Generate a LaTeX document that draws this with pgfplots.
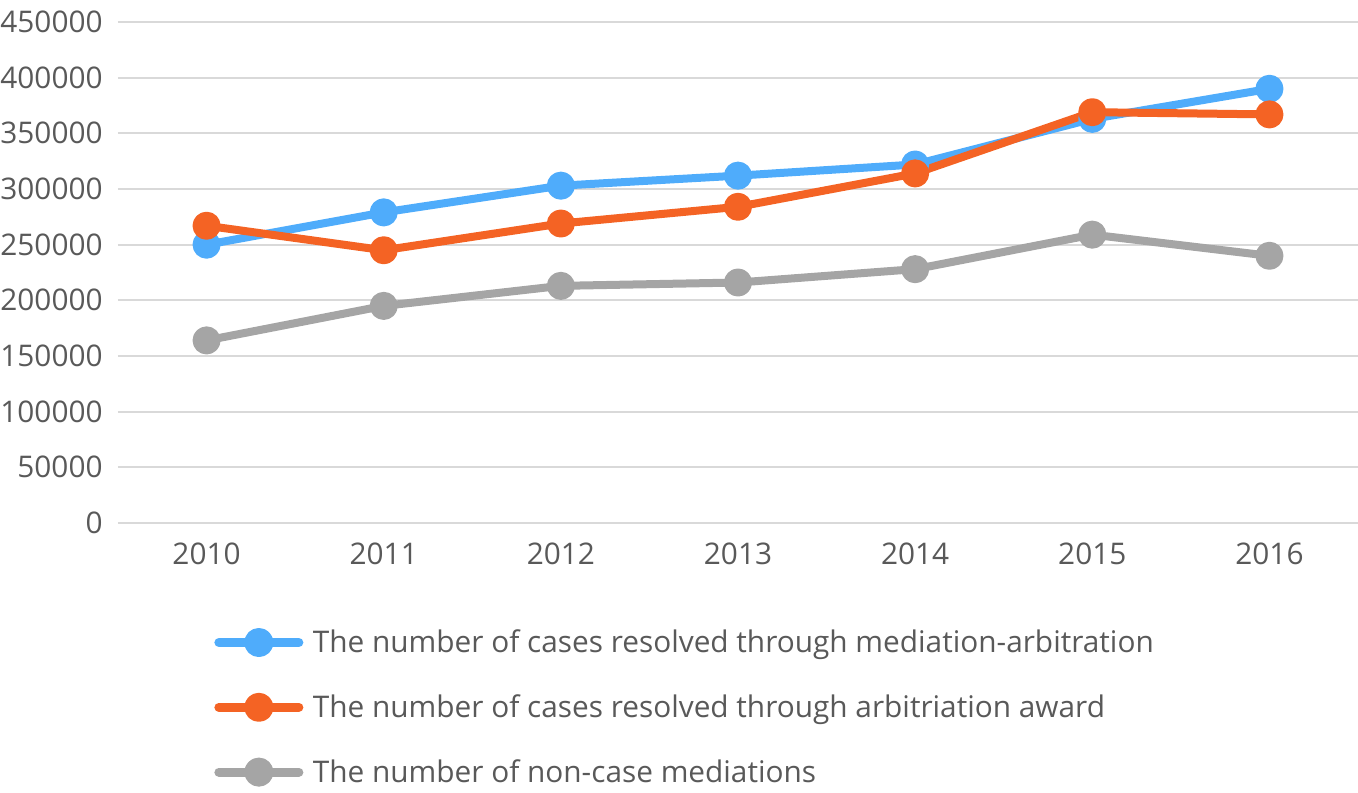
\documentclass[border=0pt]{standalone}
\usepackage{pgfplots}
\pgfplotsset{compat=1.18}
\usepackage{fontspec}
\setmainfont{Open Sans}
\definecolor{cblue}{HTML}{4FACFB}
\definecolor{corange}{HTML}{F46324}
\definecolor{cgray}{HTML}{A5A5A5}
\definecolor{cgrid}{HTML}{D9D9D9}
\definecolor{txt}{HTML}{595959}
\begin{document}
\begin{tikzpicture}
\useasboundingbox (0,0) rectangle (679pt,396pt);
\begin{axis}[
  at={(59pt,134.5pt)}, anchor=south west,
  scale only axis, width=620pt, height=250.5pt,
  xmin=-0.5, xmax=6.5, ymin=0, ymax=450000,
  ytick distance=50000,
  xtick={0,1,2,3,4,5,6},
  xticklabels={2010,2011,2012,2013,2014,2015,2016},
  scaled y ticks=false,
  ymajorgrids, xmajorgrids=false, grid style={draw=cgrid, line width=1pt},
  axis line style={draw=none}, tick style={draw=none},
  major tick length=0pt,
  font=\fontsize{14.9pt}{18pt}\selectfont,
  tick label style={text=txt},
  yticklabel style={inner sep=0pt, xshift=-7.5pt, /pgf/number format/assume math mode=true, /pgf/number format/fixed, /pgf/number format/1000 sep={}},
  xticklabel style={inner sep=0pt, yshift=-9.5pt, anchor=north},
  clip=false,
  every axis plot/.append style={line width=4pt, mark=*, mark size=5pt, line join=round},
  legend style={at={(0.0774,-0.212)}, anchor=north west, draw=none, fill=none,
    text=txt, row sep=19.5pt, inner sep=0pt,
    nodes={inner sep=0pt, anchor=west, font=\fontsize{14.9pt}{18pt}\selectfont}},
  legend cell align=left,
  legend image code/.code={\draw[#1, line cap=round, line width=4.5pt, mark repeat=2, mark phase=2] plot coordinates {(0pt,0pt) (20pt,0pt) (40pt,0pt)}; \path (45pt,0pt);},
]
\addplot[cblue, mark options={fill=cblue, draw=cblue}] coordinates {(0,250000) (1,279000) (2,303000) (3,312000) (4,322000) (5,363000) (6,390000)};
\addlegendentry{The number of cases resolved through mediation-arbitration}
\addplot[corange, mark options={fill=corange, draw=corange}] coordinates {(0,267000) (1,245000) (2,269000) (3,284000) (4,314000) (5,369000) (6,367000)};
\addlegendentry{The number of cases resolved through arbitriation award}
\addplot[cgray, mark options={fill=cgray, draw=cgray}] coordinates {(0,164000) (1,195000) (2,213000) (3,216000) (4,228000) (5,259000) (6,240000)};
\addlegendentry{The number of non-case mediations}
\end{axis}
\end{tikzpicture}
\end{document}
